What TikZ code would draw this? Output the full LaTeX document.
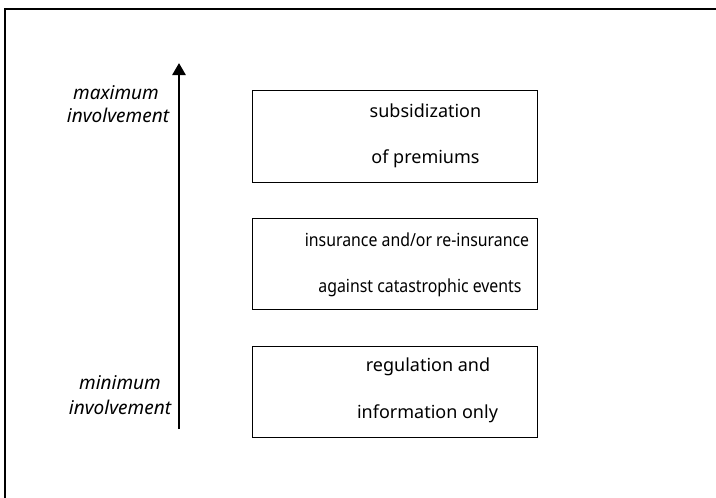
\documentclass[tikz,border=0pt]{standalone}
\usepackage{fontspec}
\setmainfont{Noto Sans}
\newfontfamily\narrowfont[FakeStretch=0.88]{Noto Sans}
\usetikzlibrary{arrows.meta}
\begin{document}
\begin{tikzpicture}[x=1pt,y=-1pt,
  frameline/.style={line width=2.4pt},
  levelbox/.style={draw,line width=1.4pt},
  boxtext/.style={font=\fontsize{18}{21}\selectfont,inner sep=0pt,anchor=center},
  smallboxtext/.style={font=\narrowfont\fontsize{18}{21}\selectfont,inner sep=0pt,anchor=center},
  sidelabel/.style={font=\fontsize{19}{22}\selectfont\itshape,inner sep=0pt,anchor=center}]
\useasboundingbox (0,0) rectangle (716,498);
% open frame
\coordinate (fbl) at (5,498);
\coordinate (ftl) at (5,9);
\coordinate (ftr) at (716,9);
\draw[frameline] (fbl) -- (ftl) -- (ftr);
% boxes
\node[levelbox,minimum width=285pt,minimum height=92pt,anchor=north west] (b1) at (252,90) {};
\node[levelbox,minimum width=285pt,minimum height=91pt,anchor=north west] (b2) at (252,218) {};
\node[levelbox,minimum width=285pt,minimum height=91pt,anchor=north west] (b3) at (252,346) {};
\node[boxtext] (t1a) at (425.5,111) {subsidization};
\node[boxtext] (t1b) at (425.5,159) {of premiums};
\node[smallboxtext] (t2a) at (417,240) {insurance and/or re-insurance};
\node[smallboxtext] (t2b) at (420,288) {against catastrophic events};
\node[boxtext] (t3a) at (428,367) {regulation and};
\node[boxtext] (t3b) at (427.5,414) {information only};
% side labels
\node[sidelabel] (l1a) at (116,93) {maximum};
\node[sidelabel] (l1b) at (118,115) {involvement};
\node[sidelabel] (l2a) at (120,383) {minimum};
\node[sidelabel] (l2b) at (120,407) {involvement};
% arrow
\coordinate (abot) at (179,429);
\coordinate (atop) at (179,63);
\draw[line width=2.6pt,-{Triangle[width=13pt,length=12pt]}] (abot) -- (atop);
\end{tikzpicture}
\end{document}
